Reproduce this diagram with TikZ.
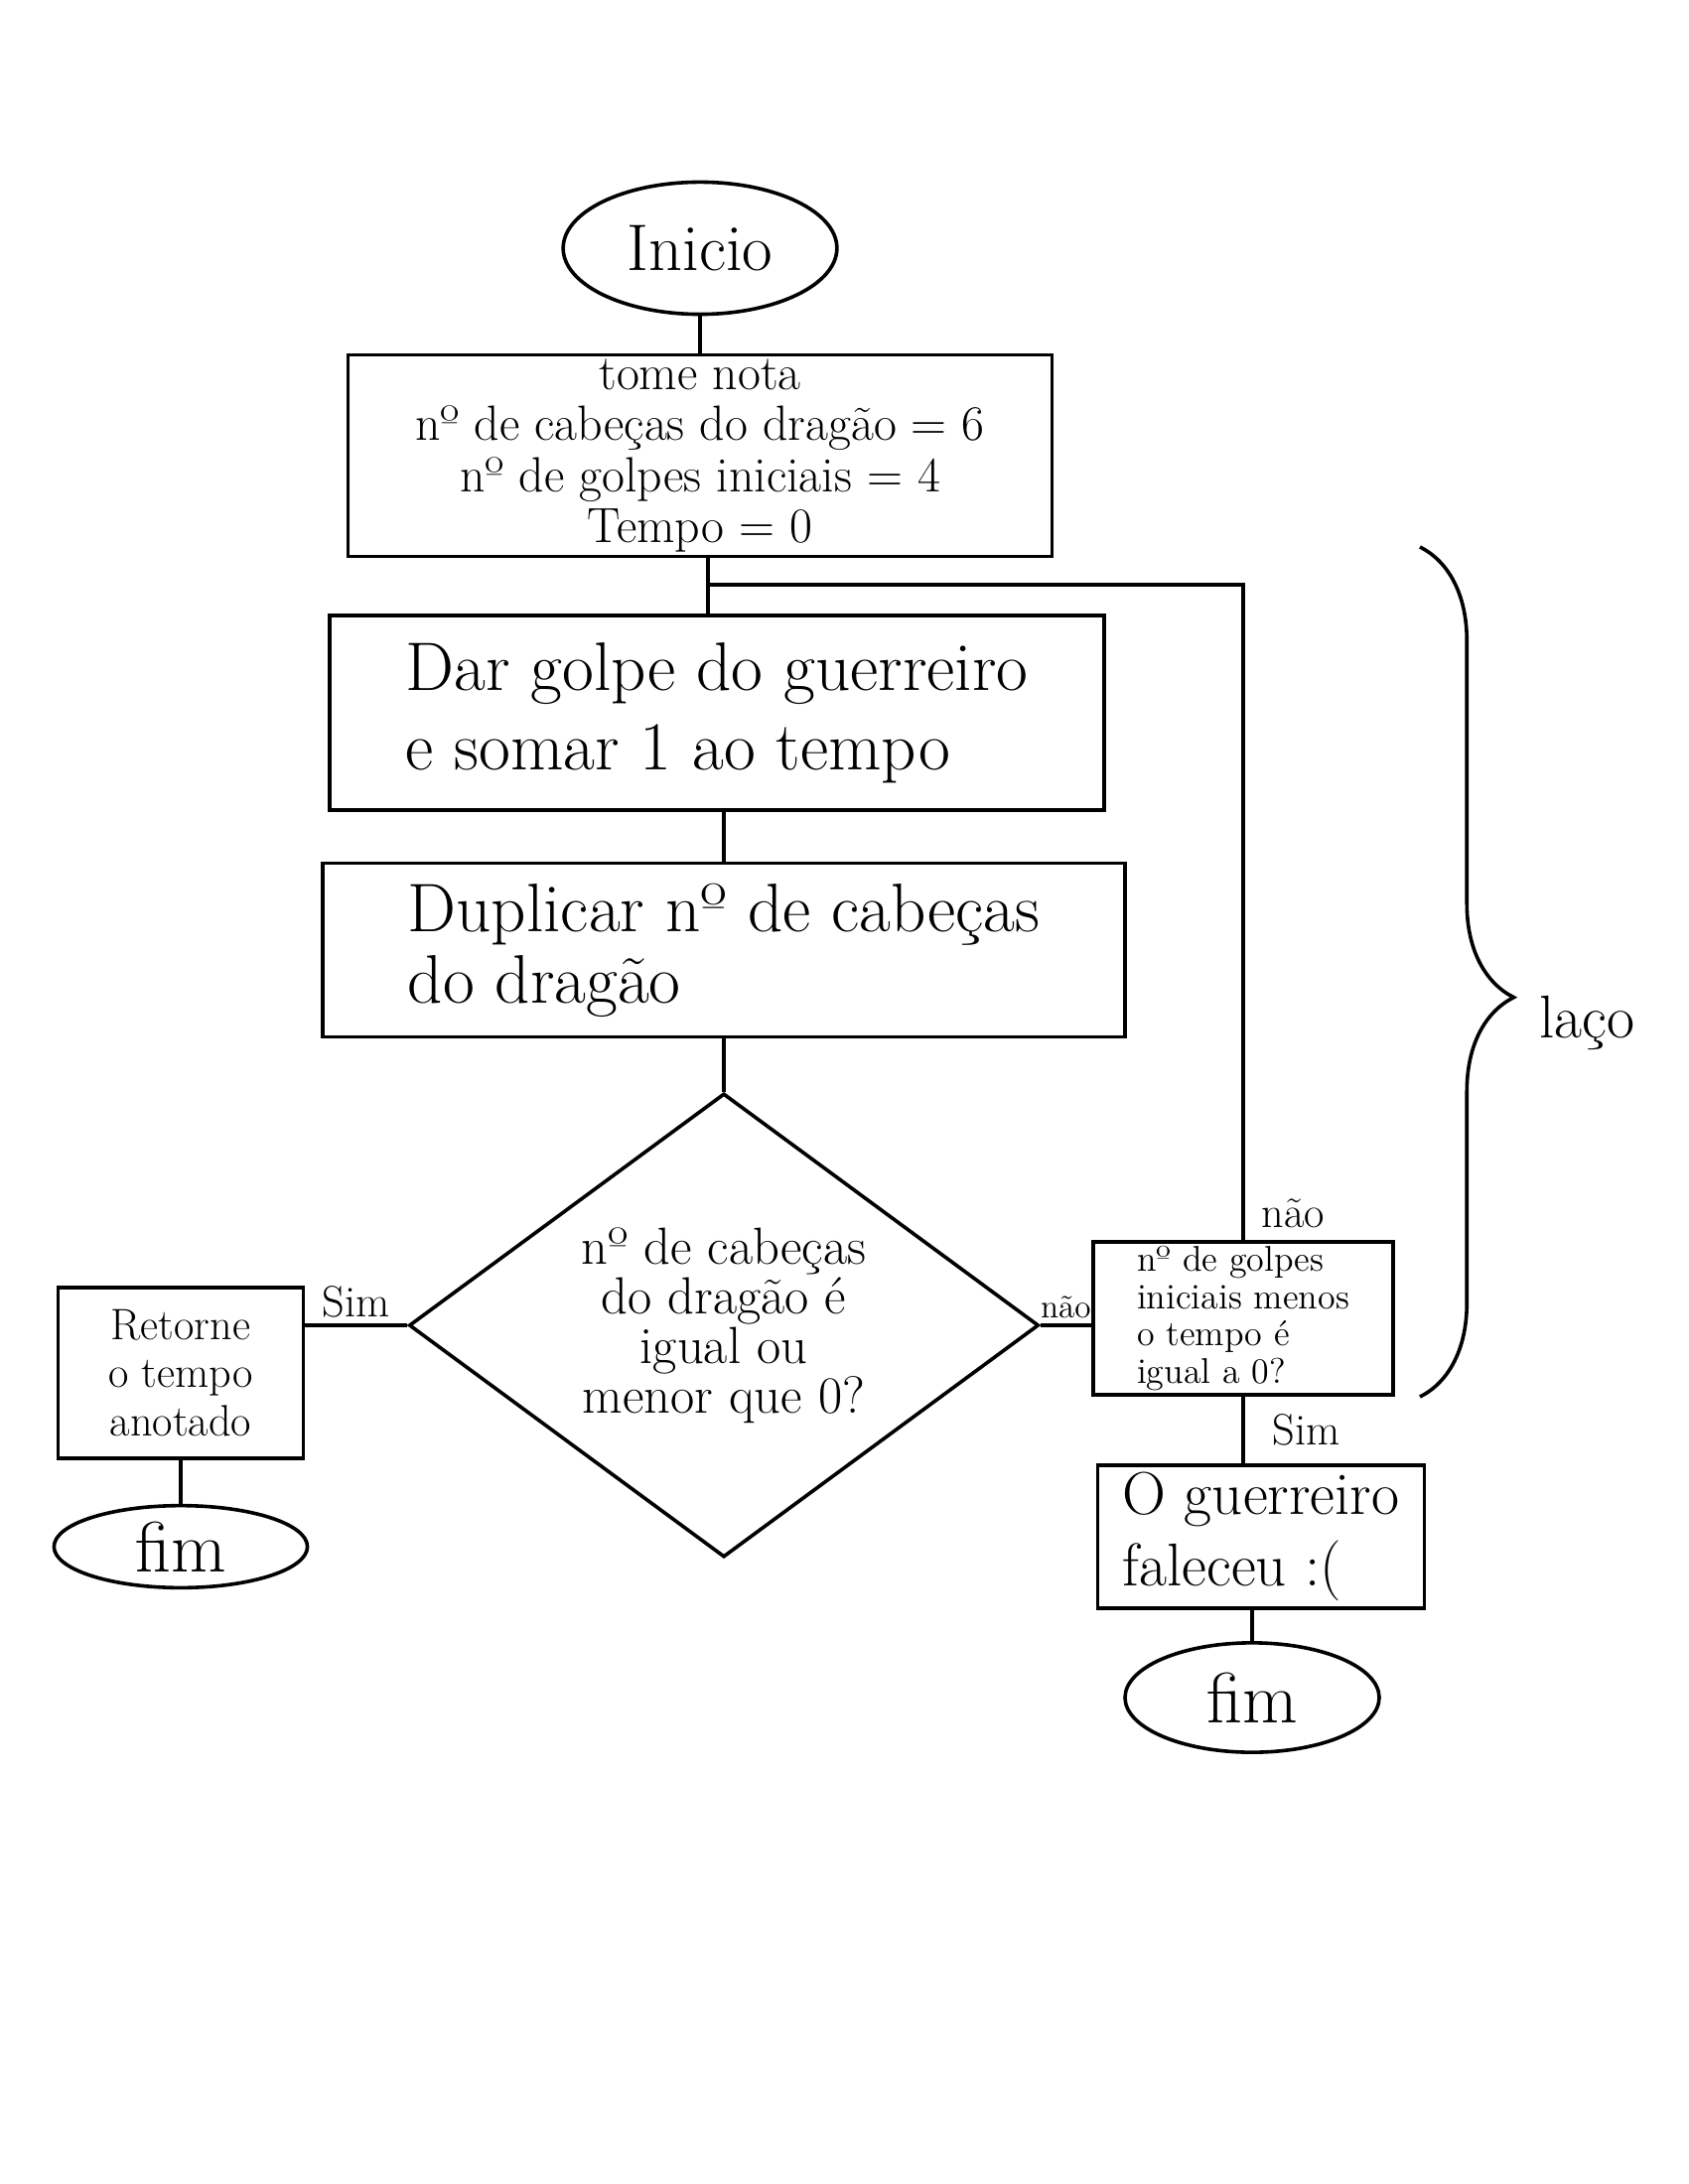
\documentclass[tikz,border=0pt]{standalone}
\usetikzlibrary{positioning,shapes.geometric,decorations.pathreplacing}

\begin{document}
\begin{tikzpicture}[
        x=0.0127cm, y=-0.0127cm,
        line width=1.3pt,
        caixa/.style={draw, inner sep=0pt},
        termo/.style={draw, ellipse, inner sep=0pt},
        decisao/.style={draw, diamond, aspect=1.36, inner sep=0pt, align=center},
        liga/.style={line width=1.3pt},
        rot/.style={font=\fontsize{16}{16}\selectfont, inner sep=2pt}
    ]
    \useasboundingbox (0,0) rectangle (1700,2200);

    % coluna principal
    \node[termo, minimum width=3.5cm, minimum height=1.69cm, font=\fontsize{24}{24}\selectfont] (inicio) at (705,250) {Inicio};
    \node[caixa, align=center, minimum width=9.0cm, minimum height=2.58cm, font=\fontsize{18}{18.5}\selectfont] (nota) at (705,459)
        {tome nota\\nº de cabeças do dragão = 6\\nº de golpes iniciais = 4\\Tempo = 0};
    \node[caixa, align=left, minimum width=9.9cm, minimum height=2.49cm, font=\fontsize{25}{29}\selectfont] (golpe) at (722,718)
        {Dar golpe do guerreiro\\e somar 1 ao tempo};
    \node[caixa, align=left, minimum width=10.26cm, minimum height=2.22cm, font=\fontsize{25}{26}\selectfont] (dupl) at (729,957)
        {Duplicar nº de cabeças\\do dragão};
    \node[decisao, minimum width=8.05cm, minimum height=5.93cm, font=\fontsize{19}{18}\selectfont] (cond) at (729,1335)
        {nº de cabeças\\do dragão é\\igual ou\\menor que 0?};

    % ramo sim
    \node[caixa, align=center, minimum width=3.14cm, minimum height=2.18cm, font=\fontsize{16}{17.5}\selectfont] (ret) at (182,1383)
        {Retorne\\o tempo\\anotado};
    \node[termo, minimum width=3.24cm, minimum height=1.05cm, font=\fontsize{26}{26}\selectfont] (fimE) at (182,1558) {fim};

    % ramo nao
    \node[caixa, align=left, minimum width=3.84cm, minimum height=1.96cm, font=\fontsize{13}{13.5}\selectfont] (golpes) at (1252,1328)
        {nº de golpes\\iniciais menos\\o tempo é\\igual a 0?};
    \node[caixa, align=left, minimum width=4.18cm, minimum height=1.83cm, font=\fontsize{22}{26}\selectfont] (guer) at (1270,1548)
        {O guerreiro\\faleceu :(};
    \node[termo, minimum width=3.25cm, minimum height=1.40cm, font=\fontsize{26}{26}\selectfont] (fimD) at (1261,1710) {fim};

    \coordinate (jn) at (713,589);
    \coordinate (chT) at (1430,551);
    \coordinate (chB) at (1430,1407);
    \node[font=\fontsize{22}{22}\selectfont] (laco) at (1598,1030) {laço};

    \draw[liga] (inicio) -- (nota);
    \draw[liga] (nota.south -| jn) -- (golpe.north -| jn);
    \draw[liga] (golpe.south -| dupl) -- (dupl.north -| dupl);
    \draw[liga] (dupl) -- (cond);
    \draw[liga] (cond.west) -- (cond.west -| ret.east) node[rot, midway, above] (simE) {Sim};
    \draw[liga] (ret) -- (fimE);
    \draw[liga] (cond.east) -- (cond.east -| golpes.west) node[rot, midway, above, font=\fontsize{12}{12}\selectfont] (naoD) {não};
    \draw[liga] (golpes.north) |- (jn) node[rot, pos=0.02, right, xshift=4pt] (naoC) {não};
    \draw[liga] (golpes.south) -- (golpes.south |- guer.north) node[rot, midway, right, xshift=8pt] (simD) {Sim};
    \draw[liga] (guer.south -| fimD) -- (fimD);

    % chave do laco
    \draw[liga, decorate, decoration={brace, amplitude=1.2cm, aspect=0.53}] (chT) -- (chB);
\end{tikzpicture}
\end{document}
